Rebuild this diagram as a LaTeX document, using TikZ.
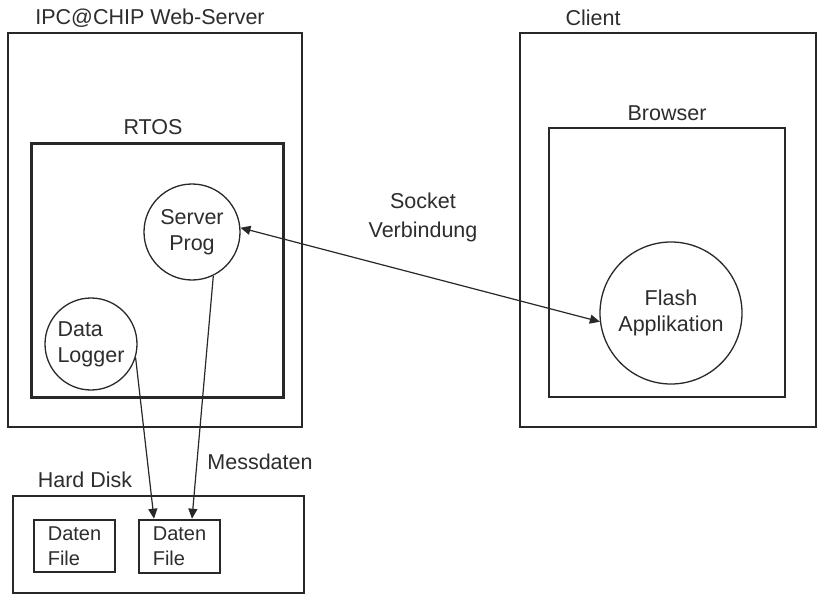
\documentclass[tikz,border=0pt]{standalone}
\usepackage{fontspec}
\setmainfont{Liberation Sans}
\usetikzlibrary{arrows.meta}
\definecolor{ln}{RGB}{40,40,40}
\definecolor{txt}{RGB}{45,45,45}
\begin{document}
\begin{tikzpicture}[x=1pt,y=-1pt,
  every node/.style={font=\fontsize{21.5}{26}\selectfont, text=txt},
  box/.style={draw=ln, line width=#1, rectangle, inner sep=0pt},
  circ/.style={draw=ln, line width=1.3pt, circle, inner sep=0pt, align=center},
  filebox/.style={draw=ln, line width=#1, rectangle, inner sep=0pt, minimum width=81pt, align=left,
     font=\fontsize{20}{25}\selectfont},
  arr/.style={draw=ln, line width=1.2pt, -{Triangle[length=10pt,width=9pt]}},
  darr/.style={draw=ln, line width=1.2pt, {Triangle[length=10pt,width=9pt]}-{Triangle[length=10pt,width=9pt]}}
]
\useasboundingbox (0,0) rectangle (819,599);
\fill[white] (0,0) rectangle (819,599);

% IPC@CHIP
\node[box=2pt, minimum width=294pt, minimum height=394pt] (ipc) at (155,230) {};
\node (ipclabel) at (150,18) {IPC@CHIP Web-Server};
\node[box=3pt, minimum width=252pt, minimum height=253pt] (rtos) at (157,270.5) {};
\node (rtoslabel) at (153,127) {RTOS};
\node[circ, minimum size=96pt] (sp) at (192,232) {Server\\Prog};
\node[circ, minimum size=92pt, align=left] (dl) at (91,344) {Data\\Logger\hspace{8pt}};

% Client
\node[box=2pt, minimum width=296pt, minimum height=394pt] (client) at (668,230) {};
\node (clientlabel) at (593,18) {Client};
\node[box=1.5pt, minimum width=236pt, minimum height=269pt] (browser) at (667,262.5) {};
\node (browserlabel) at (667,113) {Browser};
\node[circ, minimum size=142pt] (fa) at (671,313) {Flash\\Applikation};

% Socket
\node[align=center, font=\fontsize{21.5}{29}\selectfont] (socket) at (423,217) {Socket\\Verbindung};
\draw[darr] (sp.5) -- (fa.187);

% Hard Disk
\node[box=1.6pt, minimum width=291pt, minimum height=97pt] (hd) at (158.5,544.5) {};
\node (hdlabel) at (85,480) {Hard Disk};
\node[filebox=1.6pt, minimum height=52pt] (df1) at (74.5,546) {Daten\\File};
\node[filebox=2.6pt, minimum height=53pt] (df2) at (179.5,546.5) {Daten\\File};
\node (messlabel) at (260,462) {Messdaten};

\draw[arr] (dl.-17) -- ([xshift=-25.5pt]df2.north);
\draw[arr] (sp.-64) -- ([xshift=12.5pt]df2.north);
\end{tikzpicture}
\end{document}
